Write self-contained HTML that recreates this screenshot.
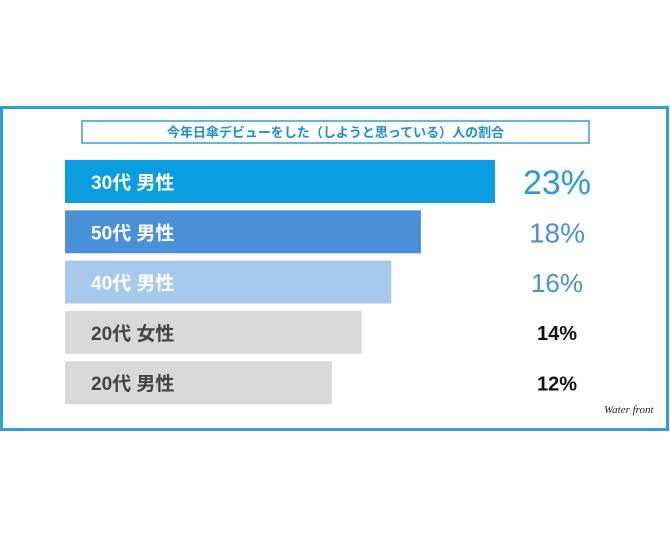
<!DOCTYPE html>
<html><head><meta charset="utf-8">
<style>
html,body{margin:0;padding:0;background:#fff;}
body{width:670px;height:536px;overflow:hidden;font-family:"Liberation Sans","Noto Sans CJK JP",sans-serif;}
</style></head>
<body>
<svg id="chart" width="670" height="536" xmlns="http://www.w3.org/2000/svg">
<rect x="1.5" y="107.5" width="666" height="322" fill="#fff" stroke="#2ba0dc" stroke-width="3"/>
<rect x="82" y="121" width="507" height="22" fill="#fff" stroke="#2ba0dc" stroke-width="1.5"/>
<text x="335.5" y="137" text-anchor="middle" font-size="13" font-weight="bold" fill="#1a8fd0" font-family="Liberation Sans, Noto Sans CJK JP, sans-serif">今年日傘デビューをした（しようと思っている）人の割合</text>
<g id="bars"></g>
<text x="604" y="413" font-size="11" font-style="italic" fill="#222" font-family="Liberation Serif, serif">Water front</text>
</svg>
<script>
const categories = ["30代 男性","50代 男性","40代 男性","20代 女性","20代 男性"];
const values = [23,18,16,14,12];
const barColors = ["#0a9de0","#4a90d9","#a6c9ec","#d9d9d9","#d9d9d9"];
const labelColors = ["#fff","#fff","#fff","#444","#444"];
const valueColors = ["#2a9ad8","#4a90d9","#4a90d9","#111","#111"];
const valueSizes = [34,28,26,20,20];

const x0 = 65;
function xScale(v){ return (v + 6) * 14.83; }
function yTop(i){ return 160 + i * 50.3; }
const barH = 43;
const NS = "http://www.w3.org/2000/svg";
const g = document.getElementById("bars");
categories.forEach((c,i)=>{
  const r = document.createElementNS(NS,"rect");
  r.setAttribute("x", x0);
  r.setAttribute("y", yTop(i));
  r.setAttribute("width", xScale(values[i]));
  r.setAttribute("height", barH);
  r.setAttribute("fill", barColors[i]);
  
  
  g.appendChild(r);
  const t = document.createElementNS(NS,"text");
  t.setAttribute("x", 91);
  t.setAttribute("y", yTop(i) + 29);
  t.setAttribute("font-size", "19");
  t.setAttribute("font-weight", "bold");
  t.setAttribute("fill", labelColors[i]);
  t.textContent = c;
  
  
  g.appendChild(t);
  const v = document.createElementNS(NS,"text");
  v.setAttribute("x", 557);
  v.setAttribute("y", yTop(i) + 22 + valueSizes[i]*0.36);
  v.setAttribute("text-anchor", "middle");
  v.setAttribute("font-size", valueSizes[i]);
  v.setAttribute("font-weight", i < 3 ? "normal" : "bold");
  v.setAttribute("fill", valueColors[i]);
  v.textContent = values[i] + "%";
  
  
  g.appendChild(v);
});
</script>
</body></html>
